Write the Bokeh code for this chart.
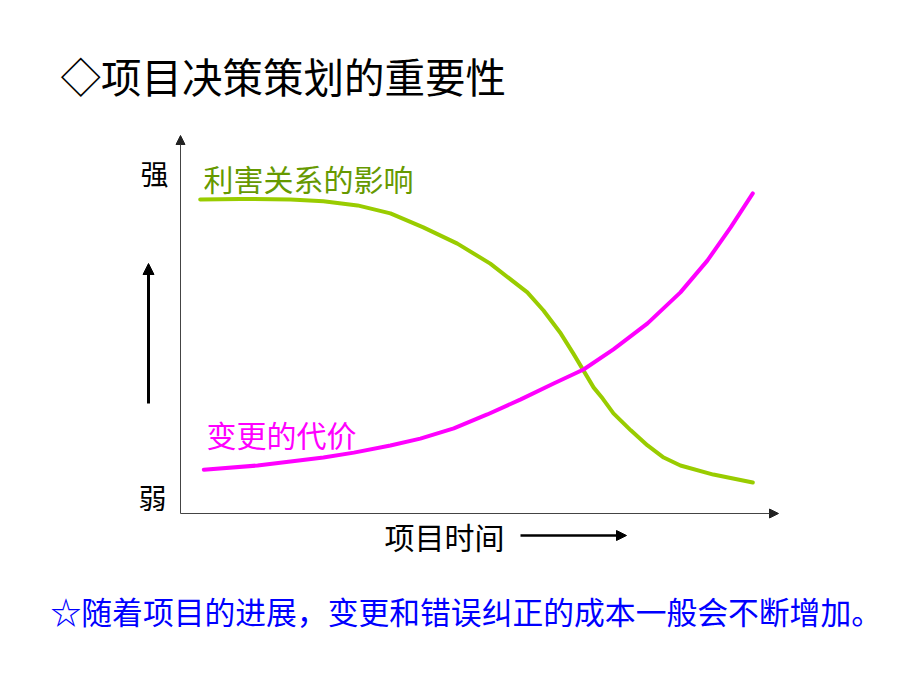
from bokeh.plotting import figure
from bokeh.models import Range1d, Arrow, NormalHead
from bokeh.core.properties import value
from bokeh.embed import file_html
from bokeh.resources import INLINE

# ---- data (time 0..100, strength 0..100) ----
stake_time = [3.3, 10.0, 18.4, 23.9, 29.6, 35.1, 40.6, 46.3, 51.8, 58.0, 60.7, 63.6,
              65.7, 67.4, 69.1, 70.6, 72.4, 75.3, 78.1, 80.8, 83.6, 89.1, 95.7]
stake_infl = [83.1, 83.2, 83.1, 82.6, 81.5, 79.4, 75.7, 71.4, 66.1, 58.5, 53.7, 47.6,
              42.3, 37.8, 33.3, 30.4, 26.5, 22.0, 18.0, 14.8, 12.7, 10.3, 8.2]

cost_time = [3.9, 12.9, 23.9, 29.0, 35.1, 40.1, 45.7, 51.3, 56.9, 62.4, 67.4, 72.4,
             78.1, 83.6, 88.1, 92.0, 95.7]
cost_val = [11.6, 12.7, 14.8, 16.1, 18.0, 19.8, 22.5, 26.2, 30.2, 34.4, 38.1, 43.4,
            50.3, 58.5, 66.9, 75.7, 84.7]

title_text = "◇项目决策策划的重要性"
stake_label = "利害关系的影响"
cost_label = "变更的代价"
strong_label = "强"
weak_label = "弱"
x_label = "项目时间"
note_text = "☆随着项目的进展，变更和错误纠正的成本一般会不断增加。"

# ---- layout: frame covers full canvas; chart axes origin at pixel (180, 513) ----
W, H = 920, 690
OX, OY = 180, 513
XS = (778 - 180) / 100.0
YS = (513 - 135) / 100.0


def dx(px):
    return (px - OX) / XS


def dy(py):
    return (OY - py) / YS


p = figure(width=W, height=H, output_backend="svg", toolbar_location=None,
           x_range=Range1d(dx(0), dx(W)), y_range=Range1d(dy(H), dy(0)),
           min_border=0, min_border_left=0, min_border_right=0,
           min_border_top=0, min_border_bottom=0)
p.axis.visible = False
p.grid.visible = False
p.outline_line_color = None
p.background_fill_color = "white"
p.border_fill_color = "white"

# axes with arrows
p.add_layout(Arrow(end=NormalHead(size=9, fill_color="#222222", line_color="#222222"),
                   x_start=0, y_start=0, x_end=0, y_end=100,
                   line_color="#444444", line_width=1))
p.add_layout(Arrow(end=NormalHead(size=9, fill_color="#222222", line_color="#222222"),
                   x_start=0, y_start=0, x_end=100, y_end=0,
                   line_color="#444444", line_width=1))

# curves
p.line(stake_time, stake_infl, line_color="#99CC00", line_width=4,
       line_cap="round", line_join="round")
p.line(cost_time, cost_val, line_color="#FF00FF", line_width=4,
       line_cap="round", line_join="round")

# big vertical arrow (strength direction)
p.add_layout(Arrow(end=NormalHead(size=11, fill_color="black", line_color="black"),
                   x_start=dx(148), y_start=dy(403), x_end=dx(148), y_end=dy(263),
                   line_color="black", line_width=3))
# time arrow
p.add_layout(Arrow(end=NormalHead(size=10, fill_color="black", line_color="black"),
                   x_start=dx(520), y_start=dy(535), x_end=dx(626), y_end=dy(535),
                   line_color="black", line_width=2.5))

font = value("Noto Sans CJK SC")


def txt(s, px, py, size, color, align="left"):
    p.text(x=[dx(px)], y=[dy(py)], text=[s], text_font=font, text_font_size=size,
           text_color=color, text_align=align, text_baseline="middle")


txt(title_text, 60, 75, "40.5px", "black")
txt(strong_label, 154, 172, "28px", "black", "center")
txt(weak_label, 152, 496, "28px", "black", "center")
txt(stake_label, 203, 177, "30px", "#669900")
txt(cost_label, 206, 433, "30px", "#FF00FF")
txt(x_label, 384, 535, "30px", "black")
txt(note_text, 50, 610, "30.8px", "#0000FF")

open("out.html", "w").write(file_html(p, INLINE))
